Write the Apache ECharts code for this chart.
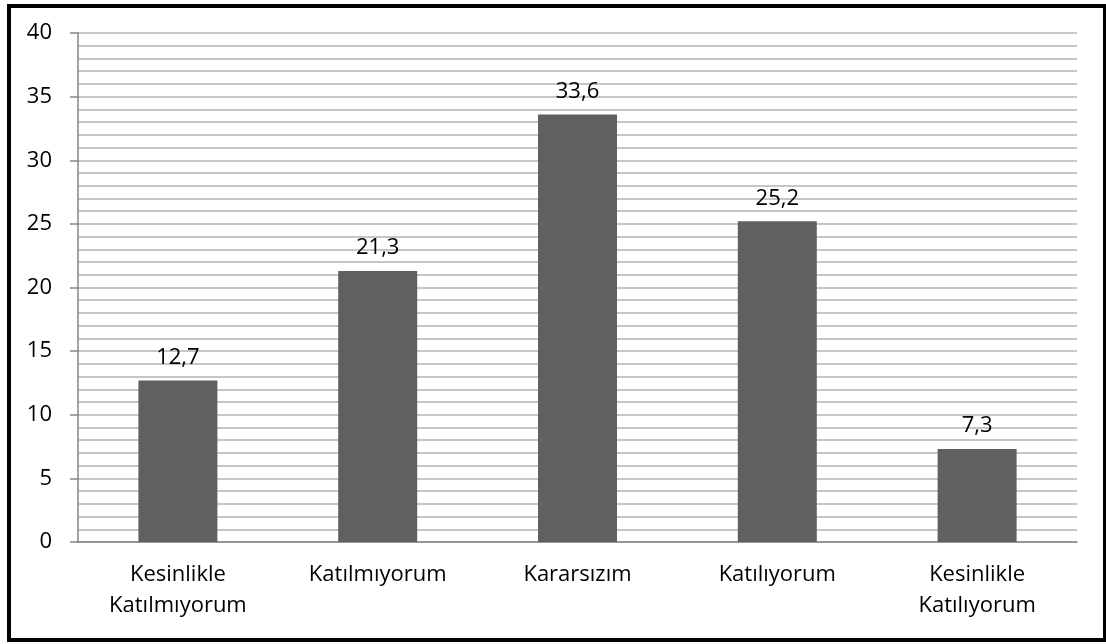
<!DOCTYPE html>
<html>
<head>
<meta charset="utf-8">
<script src="https://cdn.jsdelivr.net/npm/echarts@6/dist/echarts.min.js"></script>
<style>
    html, body { margin: 0; padding: 0; background: #fff; }
    #frame {
        position: absolute; left: 7px; top: 4px; width: 1092px; height: 630px;
        border: 4px solid #000; background: #fff;
    }
    #chart { position: absolute; left: 0; top: 0; width: 1106px; height: 644px; }
</style>
</head>
<body>
<div id="frame"></div>
<div id="chart"></div>
<script>
const categories = ['Kesinlikle\nKatılmıyorum', 'Katılmıyorum', 'Kararsızım', 'Katılıyorum', 'Kesinlikle\nKatılıyorum'];
const values = [12.7, 21.3, 33.6, 25.2, 7.3];

const font = '"Open Sans", "Liberation Sans", sans-serif';
const chart = echarts.init(document.getElementById('chart'));

chart.setOption({
    animation: false,
    grid: { left: 78, right: 29, top: 33, bottom: 102 },
    xAxis: {
        type: 'category',
        data: categories,
        axisLine: { lineStyle: { color: '#868686', width: 1.5 } },
        axisTick: { length: 8, lineStyle: { color: '#868686', width: 1.5 } },
        axisLabel: { color: '#000', fontSize: 22, fontFamily: font, lineHeight: 31, margin: 17 }
    },
    yAxis: {
        type: 'value',
        min: 0, max: 40, interval: 5,
        axisLine: { show: true, lineStyle: { color: '#868686', width: 1.5 } },
        axisTick: { show: true, inside: false, length: 8, lineStyle: { color: '#868686', width: 1.5 } },
        axisLabel: { color: '#000', fontSize: 22, fontFamily: font, margin: 26 },
        splitLine: { lineStyle: { color: '#b4b4b4', width: 1.5 } },
        minorSplitLine: { show: true, lineStyle: { color: '#b4b4b4', width: 1.5 } },
        minorTick: { show: false, splitNumber: 5 }
    },
    series: [{
        type: 'bar',
        data: values,
        barWidth: 79,
        itemStyle: { color: '#606060' },
        label: {
            show: true,
            position: 'top',
            distance: 12,
            color: '#000',
            fontSize: 22,
            fontFamily: font,
            formatter: p => String(p.value).replace('.', ',')
        }
    }]
});
</script>
</body>
</html>
